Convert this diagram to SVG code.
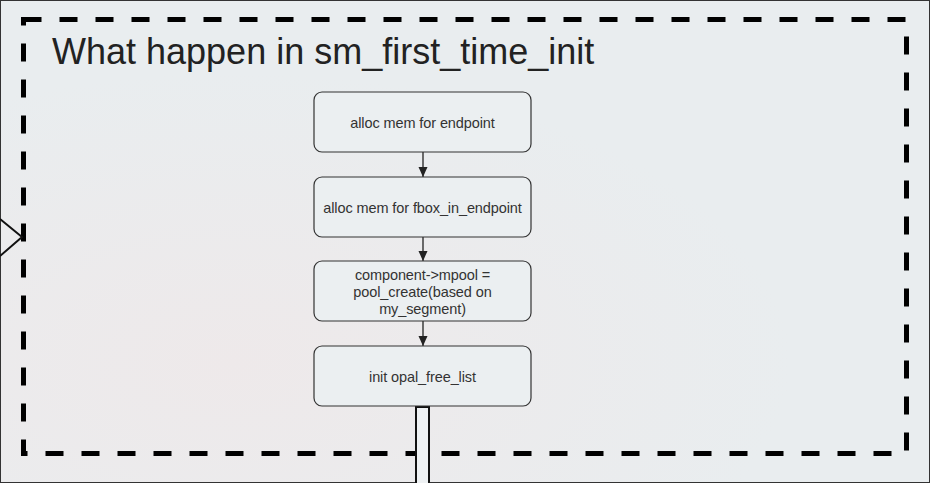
<svg xmlns="http://www.w3.org/2000/svg" width="930" height="483" viewBox="0 0 930 483">
<defs>
<marker id="arr" markerWidth="10" markerHeight="10" refX="10" refY="5" orient="auto" markerUnits="userSpaceOnUse" viewBox="0 0 10 10">
<path d="M0,0.5 L10,5 L0,9.5 Z" fill="#222"/>
</marker>
<radialGradient id="bg" cx="0.25" cy="0.75" r="0.6">
<stop offset="0" stop-color="#eee9ea"/>
<stop offset="1" stop-color="#e9edef"/>
</radialGradient>
<style>
.box{fill:#ebeff1;stroke:#333;stroke-width:1.2}
.lbl{font-family:"Liberation Sans",Arial,sans-serif;font-size:14.5px;fill:#333;text-anchor:middle;letter-spacing:-0.1px}
.conn{stroke:#222;stroke-width:1.3;fill:none}
</style>
</defs>
<rect x="0" y="0" width="930" height="483" fill="url(#bg)"/>
<rect x="0.5" y="0.5" width="929" height="482" fill="none" stroke="#333" stroke-width="1"/>
<rect x="23.5" y="19.5" width="883" height="434" fill="none" stroke="#000" stroke-width="5" stroke-dasharray="18 18"/>
<polyline points="0,219 22,237 0,256" fill="none" stroke="#111" stroke-width="2"/>
<text x="52" y="64" font-family="Liberation Sans,Arial,sans-serif" font-size="36" fill="#222">What happen in sm_first_time_init</text>
<g id="connectors">
<line class="conn" x1="423" y1="152" x2="423" y2="177" marker-end="url(#arr)"/>
<line class="conn" x1="423" y1="237" x2="423" y2="261" marker-end="url(#arr)"/>
<line class="conn" x1="423" y1="321" x2="423" y2="346" marker-end="url(#arr)"/>
<rect x="416" y="407" width="13" height="80" fill="#eef1f3" stroke="#111" stroke-width="2"/>
</g>
<g id="n1"><rect class="box" x="314" y="92" width="217" height="60" rx="8"/><text class="lbl" x="422.5" y="128">alloc mem for endpoint</text></g>
<g id="n2"><rect class="box" x="314" y="177" width="217" height="60" rx="8"/><text class="lbl" x="422.5" y="213">alloc mem for fbox_in_endpoint</text></g>
<g id="n3"><rect class="box" x="314" y="261" width="217" height="60" rx="8"/><text class="lbl" x="422.5" y="280">component-&gt;mpool =</text><text class="lbl" x="422.5" y="297">pool_create(based on</text><text class="lbl" x="422.5" y="314">my_segment)</text></g>
<g id="n4"><rect class="box" x="314" y="346" width="217" height="60" rx="8"/><text class="lbl" x="422.5" y="382">init opal_free_list</text></g>
</svg>
